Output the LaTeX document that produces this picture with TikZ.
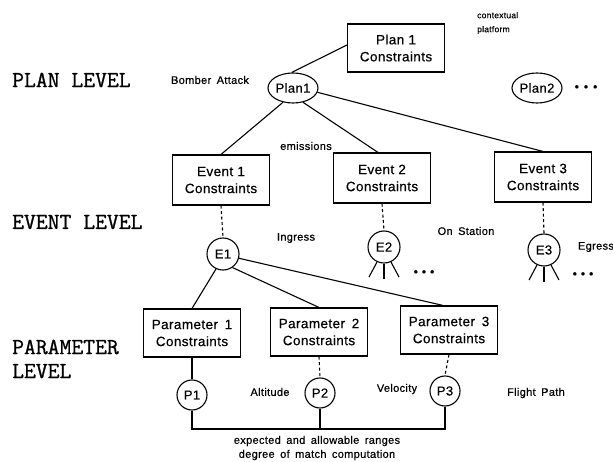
\documentclass[tikz,border=0pt]{standalone}
\usepackage{fontspec}
\setmainfont{Liberation Sans}[FakeBold=0.5,LetterSpace=3]
\newfontfamily\levfont{Latin Modern Mono}[FakeBold=1.0]
\usetikzlibrary{shapes.geometric}
\begin{document}
\begin{tikzpicture}[x=1pt,y=-1pt,
  box/.style={draw,line width=1.1pt,minimum width=97pt,minimum height=48pt,align=center,font=\fontsize{13.5}{17}\selectfont,inner sep=0pt},
  oval/.style={draw,ellipse,line width=1.1pt,minimum width=50pt,minimum height=30pt,inner sep=0pt,font=\fontsize{13}{15}\selectfont},
  circ/.style={draw,circle,line width=1.1pt,minimum size=32pt,inner sep=0pt,font=\fontsize{13}{15}\selectfont},
  lab/.style={font=\fontsize{11}{13}\selectfont,inner sep=0pt},
  lev/.style={font=\levfont\fontsize{23}{23}\selectfont,anchor=west,inner sep=0pt,align=left},
  conn/.style={line width=1.1pt},
  dconn/.style={line width=1.1pt,dash pattern=on 3pt off 2.5pt},
  dotrow/.style={font=\fontsize{12}{12}\selectfont,inner sep=0pt}]
\useasboundingbox (0,0) rectangle (613,462);
% plan level
\node[box] (pb) at (396,48) {Plan 1\\Constraints};
\node[oval] (p1) at (293,88) {Plan1};
\node[oval] (p2) at (537,88) {Plan2};
\node[dotrow] (d0) at (586,88) {•\hspace{5pt}•\hspace{5pt}•};
\node[lab,font=\fontsize{8.5}{14}\selectfont,align=left,anchor=west] (ctx) at (477,23) {contextual\\platform};
\node[lab] (bomb) at (210,80) {Bomber\enspace Attack};
\node[lev] (plv) at (12,80) {PLAN LEVEL};
\node[lab] (emi) at (306,146) {emissions};
% event level
\node[box,minimum height=50pt] (e1b) at (221,180) {Event 1\\Constraints};
\node[box,minimum height=50pt] (e2b) at (382,178) {Event 2\\Constraints};
\node[box,minimum height=50pt] (e3b) at (543,177) {Event 3\\Constraints};
\node[lev] (elv) at (12,222) {EVENT LEVEL};
\node[circ] (e1) at (223,254) {E1};
\node[circ] (e2) at (384,247) {E2};
\node[circ] (e3) at (544,250) {E3};
\node[lab] (ing) at (296,238) {Ingress};
\node[lab] (ons) at (466,231) {On\enspace Station};
\node[lab] (egr) at (596,247) {Egress};
\node[dotrow] (d2) at (424,273) {•\hspace{4pt}•\hspace{4pt}•};
\node[dotrow] (d3) at (583,275) {•\hspace{4pt}•\hspace{4pt}•};
% parameter level
\node[box] (q1b) at (192,333) {Parameter\enspace 1\\Constraints};
\node[box] (q2b) at (319,332) {Parameter\enspace 2\\Constraints};
\node[box] (q3b) at (449,330) {Parameter\enspace 3\\Constraints};
\node[lev,font=\levfont\fontsize{23}{24}\selectfont] (qlv) at (12,359) {PARAMETER\\LEVEL};
\node[circ,minimum size=30pt] (q1) at (192,395) {P1};
\node[circ,minimum size=30pt] (q2) at (320,393) {P2};
\node[circ,minimum size=30pt] (q3) at (445,391) {P3};
\node[lab] (alt) at (270,392) {Altitude};
\node[lab] (vel) at (397,389) {Velocity};
\node[lab] (flp) at (536,393) {Flight\enspace Path};
\node[lab,align=center,font=\fontsize{11}{14}\selectfont] (exp) at (317,448) {expected\enspace and\enspace allowable\enspace ranges\\degree\enspace of\enspace match\enspace computation};
\coordinate (b1) at (192,429);
\coordinate (b2) at (320,429);
\coordinate (b3) at (445,429);
% connectors
\draw[conn] (p1.95) -- ([yshift=3pt]pb.west);
\draw[conn] (p1.-125) -- (e1b.north);
\draw[conn] (p1.-55) -- ([xshift=-4pt]e2b.north);
\draw[conn] (p1.-10) -- (e3b.north);
\draw[dconn] (e1b.south) -- (e1.north);
\draw[dconn] (e2b.south) -- (e2.north);
\draw[dconn] (e3b.south) -- (e3.north);
\draw[conn] (e1.-115) -- (q1b.north);
\draw[conn] (e1.-55) -- (q2b.north);
\draw[conn] (e1.-15) -- ([xshift=-6pt]q3b.north);
\draw[conn] (q1b.south) -- (q1.north);
\draw[dconn] (q2b.south) -- (q2.north);
\draw[dconn] (q3b.south) -- (q3.north);
\draw[conn] (q1.south) -- (b1) -- (b3) -- (q3.south);
\draw[conn] (q2.south) -- (b2);
% legs of E2 and E3
\foreach \n in {e2,e3}{
  \draw[conn] (\n.-115) -- ++(-8,15);
  \draw[conn] (\n.south) -- ++(0,15);
  \draw[conn] (\n.-65) -- ++(8,15);
}
\end{tikzpicture}
\end{document}
